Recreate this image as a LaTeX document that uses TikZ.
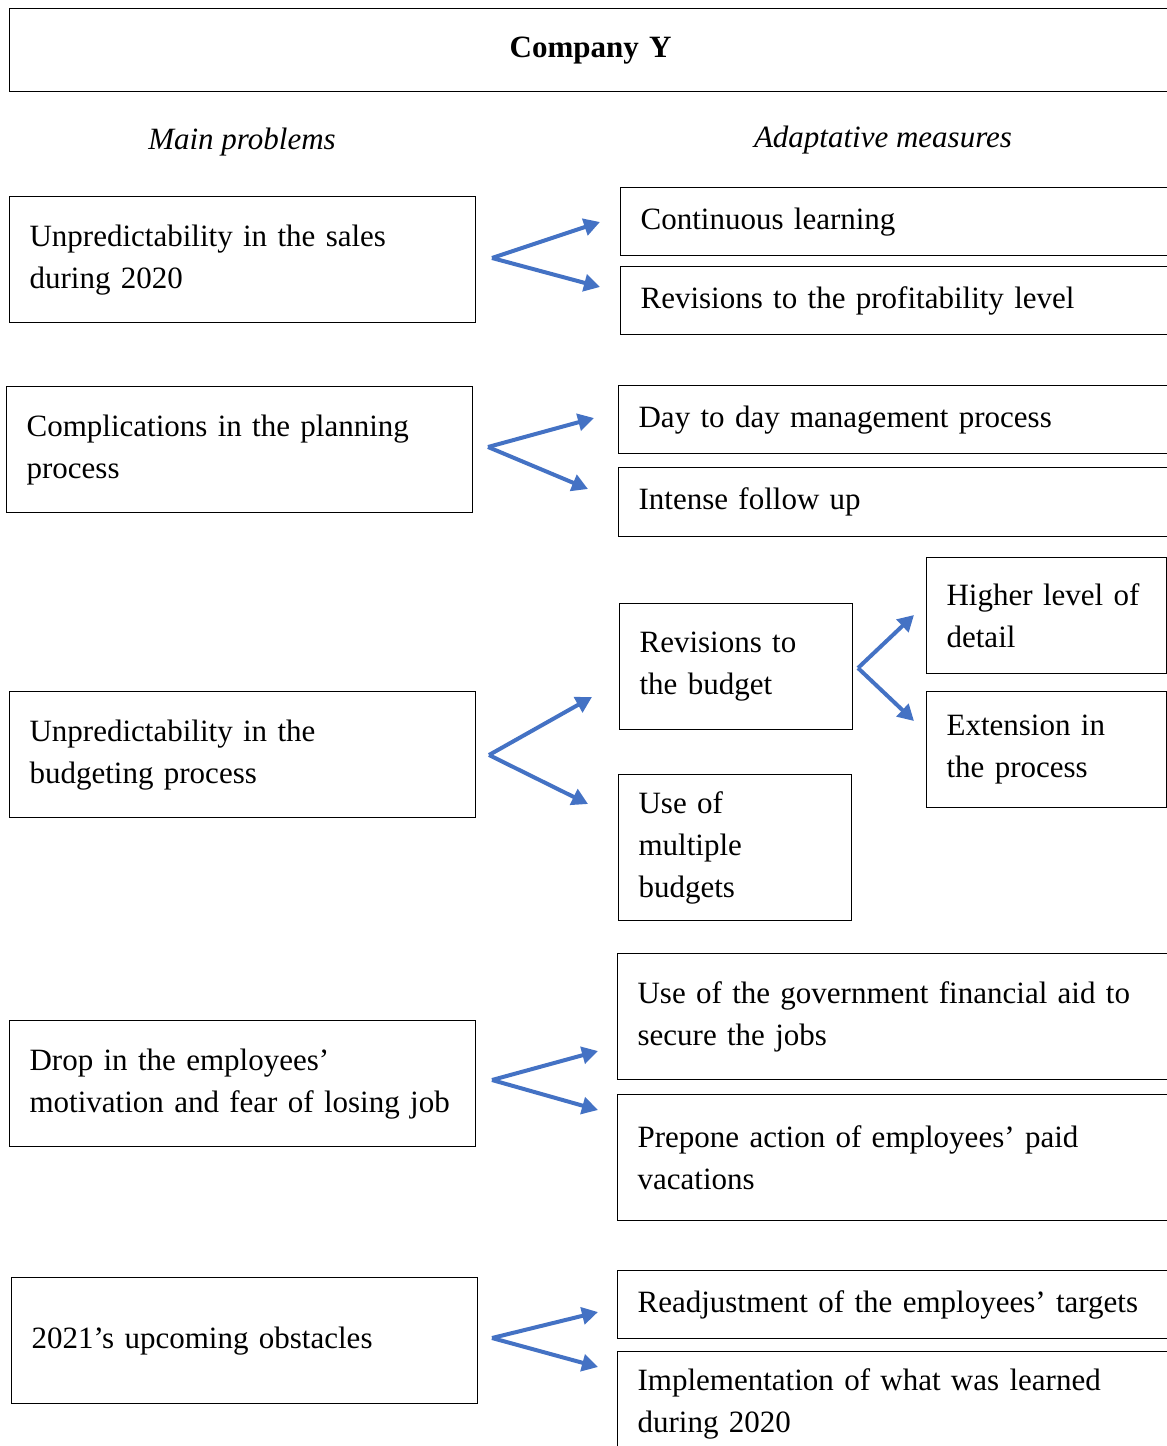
\documentclass[tikz,border=0pt]{standalone}
\usepackage{fontspec}
\setmainfont{Liberation Serif}
\usetikzlibrary{arrows.meta}

\definecolor{arrowblue}{HTML}{4472C4}

\begin{document}
\begin{tikzpicture}[x=0.5pt, y=-0.5pt,
    box/.style={draw, line width=0.6pt, anchor=north west, inner xsep=10pt, inner ysep=0pt, align=left,
        font=\fontsize{15.5}{21}\selectfont},
    wide/.style={box, text width=257.5pt},
    blue arrow/.style={-{Triangle[length=8pt,width=8.5pt]}, line width=2pt, draw=arrowblue, fill=arrowblue},
]

    \useasboundingbox (0,0) rectangle (1167,1446);
    \clip (0,0) rectangle (1167,1446);

    % title and column heads
    \node[box, text width=561pt, minimum height=41.5pt, font=\fontsize{15.5}{21}\selectfont\bfseries, align=center] (title) at (9,8) {Company Y};
    \node[font=\fontsize{15.5}{21}\selectfont\itshape] (problems) at (242,142) {Main problems};
    \node[font=\fontsize{15.5}{21}\selectfont\itshape] (measures) at (883,140) {Adaptative measures};

    % main problems
    \node[box, text width=213pt, minimum height=63pt] (sales) at (9,196) {Unpredictability in the sales\\during 2020};
    \node[box, text width=213pt, minimum height=63pt] (planning) at (6,386) {Complications in the planning\\process};
    \node[box, text width=213pt, minimum height=63pt] (budgeting) at (9,691) {Unpredictability in the\\budgeting process};
    \node[box, text width=213pt, minimum height=63pt] (motivation) at (9,1020) {Drop in the employees’\\motivation and fear of losing job};
    \node[box, text width=213pt, minimum height=63pt] (obstacles) at (11,1277) {2021’s upcoming obstacles};

    % adaptative measures
    \node[wide, minimum height=34pt] (learning) at (620,187) {Continuous learning};
    \node[wide, minimum height=34pt] (profit) at (620,266) {Revisions to the profitability level};
    \node[wide, minimum height=34pt] (daily) at (618,385) {Day to day management process};
    \node[wide, minimum height=34.5pt] (follow) at (618,467) {Intense follow up};
    \node[box, text width=96.5pt, minimum height=63pt] (revbudget) at (619,603) {Revisions to\\the budget};
    \node[box, text width=96.5pt, minimum height=73pt] (multiple) at (618,774) {Use of\\multiple\\budgets};
    \node[box, text width=100pt, minimum height=58pt] (detail) at (926,557) {Higher level of\\detail};
    \node[box, text width=100pt, minimum height=58pt] (extension) at (926,691) {Extension in\\the process};
    \node[wide, minimum height=63pt] (aid) at (617,953) {Use of the government financial aid to\\secure the jobs};
    \node[wide, minimum height=63pt] (vacations) at (617,1094) {Prepone action of employees’ paid\\vacations};
    \node[wide, minimum height=34pt] (targets) at (617,1270) {Readjustment of the employees’ targets};
    \node[wide, minimum height=52pt] (learned) at (617,1351) {Implementation of what was learned\\during 2020};

    % arrows
    \coordinate (s1) at (492,258);
    \coordinate (s2) at (488,447);
    \coordinate (s3) at (489,755);
    \coordinate (s4) at (858,668);
    \coordinate (s5) at (492,1080);
    \coordinate (s6) at (492,1338);
    \draw[blue arrow] (s1) -- (600,222);
    \draw[blue arrow] (s1) -- (600,287);
    \draw[blue arrow] (s2) -- (594,418);
    \draw[blue arrow] (s2) -- (588,489);
    \draw[blue arrow] (s3) -- (592,697);
    \draw[blue arrow] (s3) -- (588,804);
    \draw[blue arrow] (s4) -- (914,615);
    \draw[blue arrow] (s4) -- (914,721);
    \draw[blue arrow] (s5) -- (598,1051);
    \draw[blue arrow] (s5) -- (598,1110);
    \draw[blue arrow] (s6) -- (598,1312);
    \draw[blue arrow] (s6) -- (598,1367);

\end{tikzpicture}
\end{document}
